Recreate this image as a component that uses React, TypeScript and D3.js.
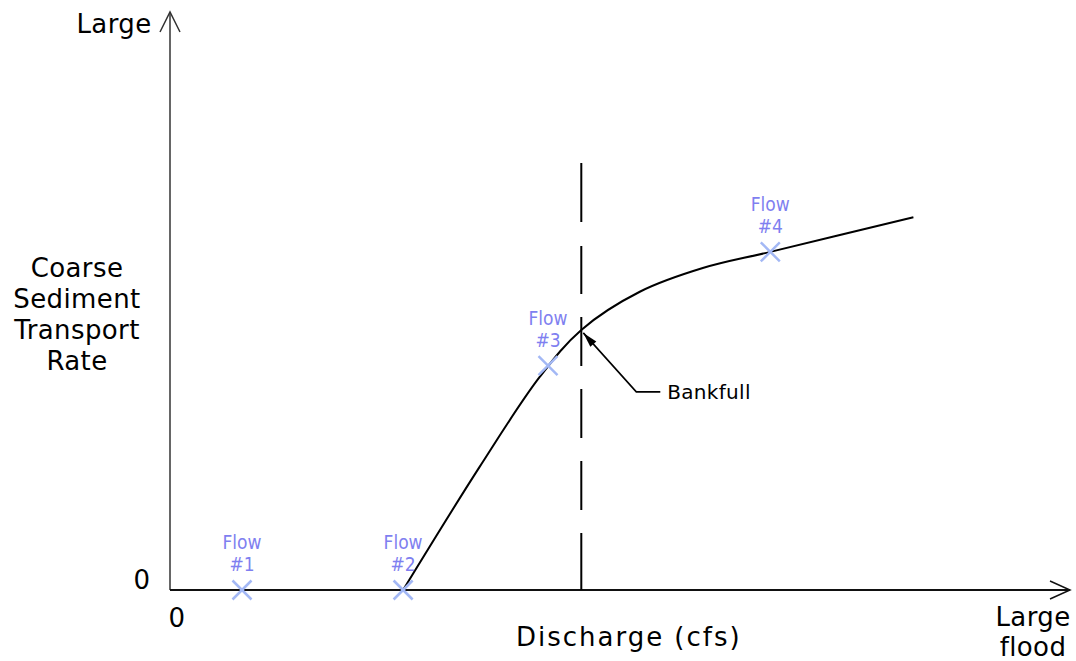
import React from "react";
import * as d3 from "d3";

// ---- data (abstract units: x 0..100 discharge, y 0..100 transport) ----
const curveX = [25.9, 34.4, 41.1, 45.7, 52.2, 59.2, 66.7, 82.6];
const curveY = [0, 21.3, 36.9, 45.0, 51.6, 55.7, 58.5, 64.5];
const flowNames = ["#1", "#2", "#3", "#4"];
const flowX = [8.0, 25.9, 42.0, 66.7];
const flowY = [0, 0, 38.8, 58.5];
const bankfullX = 45.7;
const bankfullY = 45.0;
const yAxisLabel = ["Coarse", "Sediment", "Transport", "Rate"];

const W = 1076;
const H = 661;

export default function App() {
  const x = d3.scaleLinear().domain([0, 100]).range([170, 1070]);
  const y = d3.scaleLinear().domain([0, 100]).range([590, 12]);

  const pts: [number, number][] = curveX.map((v, i) => [v, curveY[i]]);
  const line = d3
    .line<[number, number]>()
    .x((d) => x(d[0]))
    .y((d) => y(d[1]))
    .curve(d3.curveCatmullRom.alpha(0.5));

  const bx = x(bankfullX);
  const by = y(bankfullY);
  const x0 = x(0);
  const y0 = y(0);
  const xEnd = x(100);
  const yTop = y(100);

  // leader line
  const tipX = bx + 2;
  const tipY = by + 3;
  const elbowX = bx + 55;
  const elbowY = by + 62;
  const ang = Math.atan2(elbowY - tipY, elbowX - tipX);
  const ah = 15;
  const aw = 4;
  const ax1 = tipX + ah * Math.cos(ang) - aw * Math.sin(ang);
  const ay1 = tipY + ah * Math.sin(ang) + aw * Math.cos(ang);
  const ax2 = tipX + ah * Math.cos(ang) + aw * Math.sin(ang);
  const ay2 = tipY + ah * Math.sin(ang) - aw * Math.cos(ang);

  const textFont = "'DejaVu Sans', sans-serif";
  const flowFont = "'DejaVu Sans Condensed', 'Liberation Sans Narrow', sans-serif";
  const markerColor = "#a3b8f5";
  const labelColor = "#7f7ff0";
  const ms = 9.5;
  const fs = 26;

  const common = {
    textAnchor: "middle" as const,
    fontFamily: textFont,
    fontSize: fs,
    letterSpacing: 0.4,
    fill: "#000",
    dy: "0.36em",
  };

  return (
    <svg
      width={W}
      height={H}
      style={{ position: "absolute", left: 0, top: 0, background: "#fff" }}
    >
      {/* axes */}
      <line x1={x0} y1={y0} x2={x0} y2={yTop} stroke="#333" strokeWidth={1.5} />
      <polyline
        points={`${x0 - 10},${yTop + 20} ${x0},${yTop} ${x0 + 10},${yTop + 20}`}
        fill="none"
        stroke="#333"
        strokeWidth={1.5}
      />
      <line x1={x0} y1={y0} x2={xEnd} y2={y0} stroke="#111" strokeWidth={1.8} />
      <polyline
        points={`${xEnd - 20},${y0 - 9} ${xEnd},${y0} ${xEnd - 20},${y0 + 9}`}
        fill="none"
        stroke="#111"
        strokeWidth={1.5}
      />

      {/* bankfull dashed line */}
      <line
        x1={bx}
        y1={y0}
        x2={bx}
        y2={163}
        stroke="#000"
        strokeWidth={2}
        strokeDasharray="57 23 49 23 49 23 49 23 48 24 59"
      />

      {/* curve */}
      <path d={line(pts) || ""} fill="none" stroke="#000" strokeWidth={2} />

      {/* leader */}
      <polyline
        points={`${tipX},${tipY} ${elbowX},${elbowY} ${elbowX + 24},${elbowY}`}
        fill="none"
        stroke="#000"
        strokeWidth={1.6}
      />
      <polygon points={`${tipX},${tipY} ${ax1},${ay1} ${ax2},${ay2}`} fill="#000" />
      <text
        x={elbowX + 31}
        y={elbowY}
        dy="0.36em"
        fontFamily={textFont}
        fontSize={20}
        letterSpacing={0.3}
        fill="#000"
      >
        Bankfull
      </text>

      {/* flow markers */}
      {flowNames.map((n, i) => {
        const cx = x(flowX[i]);
        const cy = y(flowY[i]);
        return (
          <g key={n}>
            <line x1={cx - ms} y1={cy - ms} x2={cx + ms} y2={cy + ms} stroke={markerColor} strokeWidth={2.5} />
            <line x1={cx - ms} y1={cy + ms} x2={cx + ms} y2={cy - ms} stroke={markerColor} strokeWidth={2.5} />
            <text
              x={cx}
              y={cy - 41}
              textAnchor="middle"
              fontFamily={flowFont}
              fontSize={19}
              fill={labelColor}
            >
              Flow
            </text>
            <text
              x={cx}
              y={cy - 19}
              textAnchor="middle"
              fontFamily={flowFont}
              fontSize={19}
              fill={labelColor}
            >
              {n}
            </text>
          </g>
        );
      })}

      {/* texts */}
      <text x={114} y={24} {...common}>
        Large
      </text>
      {yAxisLabel.map((t, i) => (
        <text key={t} x={77} y={268 + i * 31} {...common}>
          {t}
        </text>
      ))}
      <text x={142} y={580} {...common}>
        0
      </text>
      <text x={177} y={618} {...common}>
        0
      </text>
      <text x={628} y={637} {...common} textLength={224} lengthAdjust="spacing">
        Discharge (cfs)
      </text>
      <text x={1033} y={617} {...common}>
        Large
      </text>
      <text x={1033} y={647} {...common}>
        flood
      </text>
    </svg>
  );
}
